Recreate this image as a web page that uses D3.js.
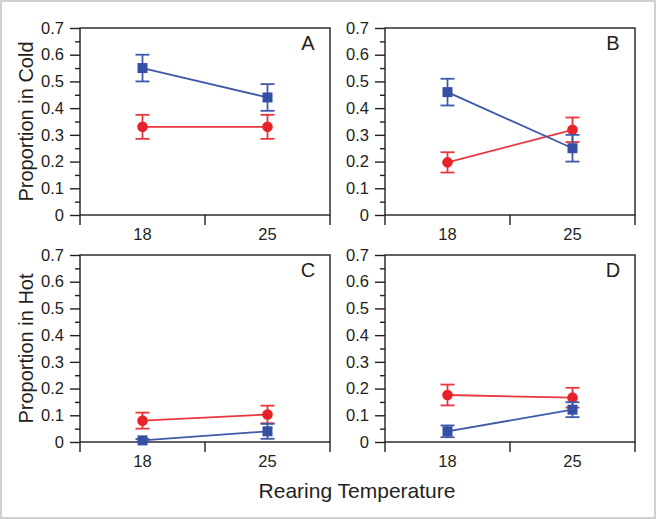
<!DOCTYPE html>
<html>
<head>
<meta charset="utf-8">
<script src="https://cdn.jsdelivr.net/npm/d3@7"></script>
<style>
  html, body { margin: 0; padding: 0; background: #ffffff; }
  svg { display: block; }
  text { font-family: "Liberation Sans", Arial, Helvetica, sans-serif; fill: #231f20; }
</style>
</head>
<body>
<script>
// ---- data ----
const categories = ["18", "25"];
const panelLetters = ["A", "B", "C", "D"];
const yTickValues = [0, 0.1, 0.2, 0.3, 0.4, 0.5, 0.6, 0.7];
const yMinorValues = [0.05, 0.15, 0.25, 0.35, 0.45, 0.55, 0.65];
const rowLabels = ["Proportion in Cold", "Proportion in Hot"];
const xTitle = "Rearing Temperature";

// blue squares (mean, ± error)
const blueA = [0.55, 0.44];   const blueErrA = [0.05, 0.05];
const blueB = [0.46, 0.25];   const blueErrB = [0.05, 0.05];
const blueC = [0.006, 0.04];  const blueErrC = [0.005, 0.028];
const blueD = [0.04, 0.121];  const blueErrD = [0.022, 0.028];
// red circles (mean, ± error)
const redA = [0.33, 0.33];    const redErrA = [0.045, 0.045];
const redB = [0.197, 0.319];  const redErrB = [0.038, 0.046];
const redC = [0.08, 0.103];   const redErrC = [0.03, 0.033];
const redD = [0.176, 0.166];  const redErrD = [0.039, 0.037];

const blueSeries = [blueA, blueB, blueC, blueD];
const blueErrs = [blueErrA, blueErrB, blueErrC, blueErrD];
const redSeries = [redA, redB, redC, redD];
const redErrs = [redErrA, redErrB, redErrC, redErrD];

// ---- layout ----
const W = 656, H = 519;
const BLUE = "#3450a4", BLUE_LINE = "#4058a8";
const RED = "#e8222b", RED_LINE = "#e8363d";
const INK = "#231f20";

const svg = d3.select("body").append("svg").attr("width", W).attr("height", H);
svg.append("rect").attr("x", 1).attr("y", 1).attr("width", W - 2).attr("height", H - 2)
  .attr("fill", "#ffffff").attr("stroke", "#cfcfcf").attr("stroke-width", 2);

const cols = [[80, 330], [385, 635]];
const rows = [[215, 28], [442, 255]];

panelLetters.forEach((letter, i) => {
  const c = cols[i % 2], r = rows[Math.floor(i / 2)];
  const x = d3.scaleBand().domain(categories).range(c).padding(0);
  const y = d3.scaleLinear().domain([0, 0.7]).range(r);
  const g = svg.append("g");

  // frame
  g.append("rect").attr("x", c[0]).attr("y", r[1]).attr("width", c[1] - c[0]).attr("height", r[0] - r[1])
    .attr("fill", "none").attr("stroke", INK).attr("stroke-width", 1.4);

  // y axis major
  const ya = g.append("g").attr("transform", `translate(${c[0]},0)`)
    .call(d3.axisLeft(y).tickValues(yTickValues).tickSize(10).tickPadding(6)
      .tickFormat(d => d === 0 ? "0" : d3.format(".1f")(d)));
  ya.select(".domain").remove();
  ya.selectAll("line").attr("stroke", INK).attr("stroke-width", 1.4);
  ya.selectAll("text").attr("font-size", 16.5).attr("font-family", null).attr("fill", INK);
  // y axis minor
  const ym = g.append("g").attr("transform", `translate(${c[0]},0)`)
    .call(d3.axisLeft(y).tickValues(yMinorValues).tickSize(5).tickFormat(""));
  ym.select(".domain").remove();
  ym.selectAll("line").attr("stroke", INK).attr("stroke-width", 1.4);

  // x axis: labels at band centers, ticks at band boundaries
  const xa = g.append("g").attr("transform", `translate(0,${r[0]})`)
    .call(d3.axisBottom(x).tickSize(0).tickPadding(13));
  xa.select(".domain").remove();
  xa.selectAll("text").attr("font-size", 16.5).attr("font-family", null).attr("fill", INK);
  const bounds = categories.map(d => x(d)).concat([x(categories[categories.length - 1]) + x.bandwidth()]);
  g.selectAll(".xt").data(bounds).join("line")
    .attr("x1", d => d).attr("x2", d => d).attr("y1", r[0]).attr("y2", r[0] + 10)
    .attr("stroke", INK).attr("stroke-width", 1.4);

  // panel letter
  g.append("text").attr("x", c[1] - 22).attr("y", r[1] + 22).attr("text-anchor", "middle")
    .attr("font-size", 20).text(letter);

  const cx = d => x(d) + x.bandwidth() / 2;
  const drawSeries = (vals, errs, color, lineColor, shape) => {
    const pts = categories.map((d, k) => ({ x: cx(d), v: vals[k], e: errs[k] }));
    g.append("path").datum(pts)
      .attr("d", d3.line().x(p => p.x).y(p => y(p.v)))
      .attr("fill", "none").attr("stroke", lineColor).attr("stroke-width", 1.8);
    pts.forEach(p => {
      const eg = g.append("g").attr("stroke", lineColor).attr("stroke-width", 1.8);
      eg.append("line").attr("x1", p.x).attr("x2", p.x).attr("y1", y(p.v - p.e)).attr("y2", y(p.v + p.e));
      eg.append("line").attr("x1", p.x - 7).attr("x2", p.x + 7).attr("y1", y(p.v - p.e)).attr("y2", y(p.v - p.e));
      eg.append("line").attr("x1", p.x - 7).attr("x2", p.x + 7).attr("y1", y(p.v + p.e)).attr("y2", y(p.v + p.e));
      if (shape === "square") {
        g.append("rect").attr("x", p.x - 5).attr("y", y(p.v) - 5).attr("width", 10).attr("height", 10).attr("fill", color);
      } else {
        g.append("circle").attr("cx", p.x).attr("cy", y(p.v)).attr("r", 5.3).attr("fill", color);
      }
    });
  };
  drawSeries(redSeries[i], redErrs[i], RED, RED_LINE, "circle");
  drawSeries(blueSeries[i], blueErrs[i], BLUE, BLUE_LINE, "square");
});

// row labels
rows.forEach((r, k) => {
  svg.append("text").attr("transform", `translate(33,${(r[0] + r[1]) / 2}) rotate(-90)`)
    .attr("text-anchor", "middle").attr("font-size", 20).text(rowLabels[k]);
});
svg.append("text").attr("x", 357).attr("y", 498).attr("text-anchor", "middle").attr("font-size", 21).text(xTitle);
</script>
</body>
</html>
